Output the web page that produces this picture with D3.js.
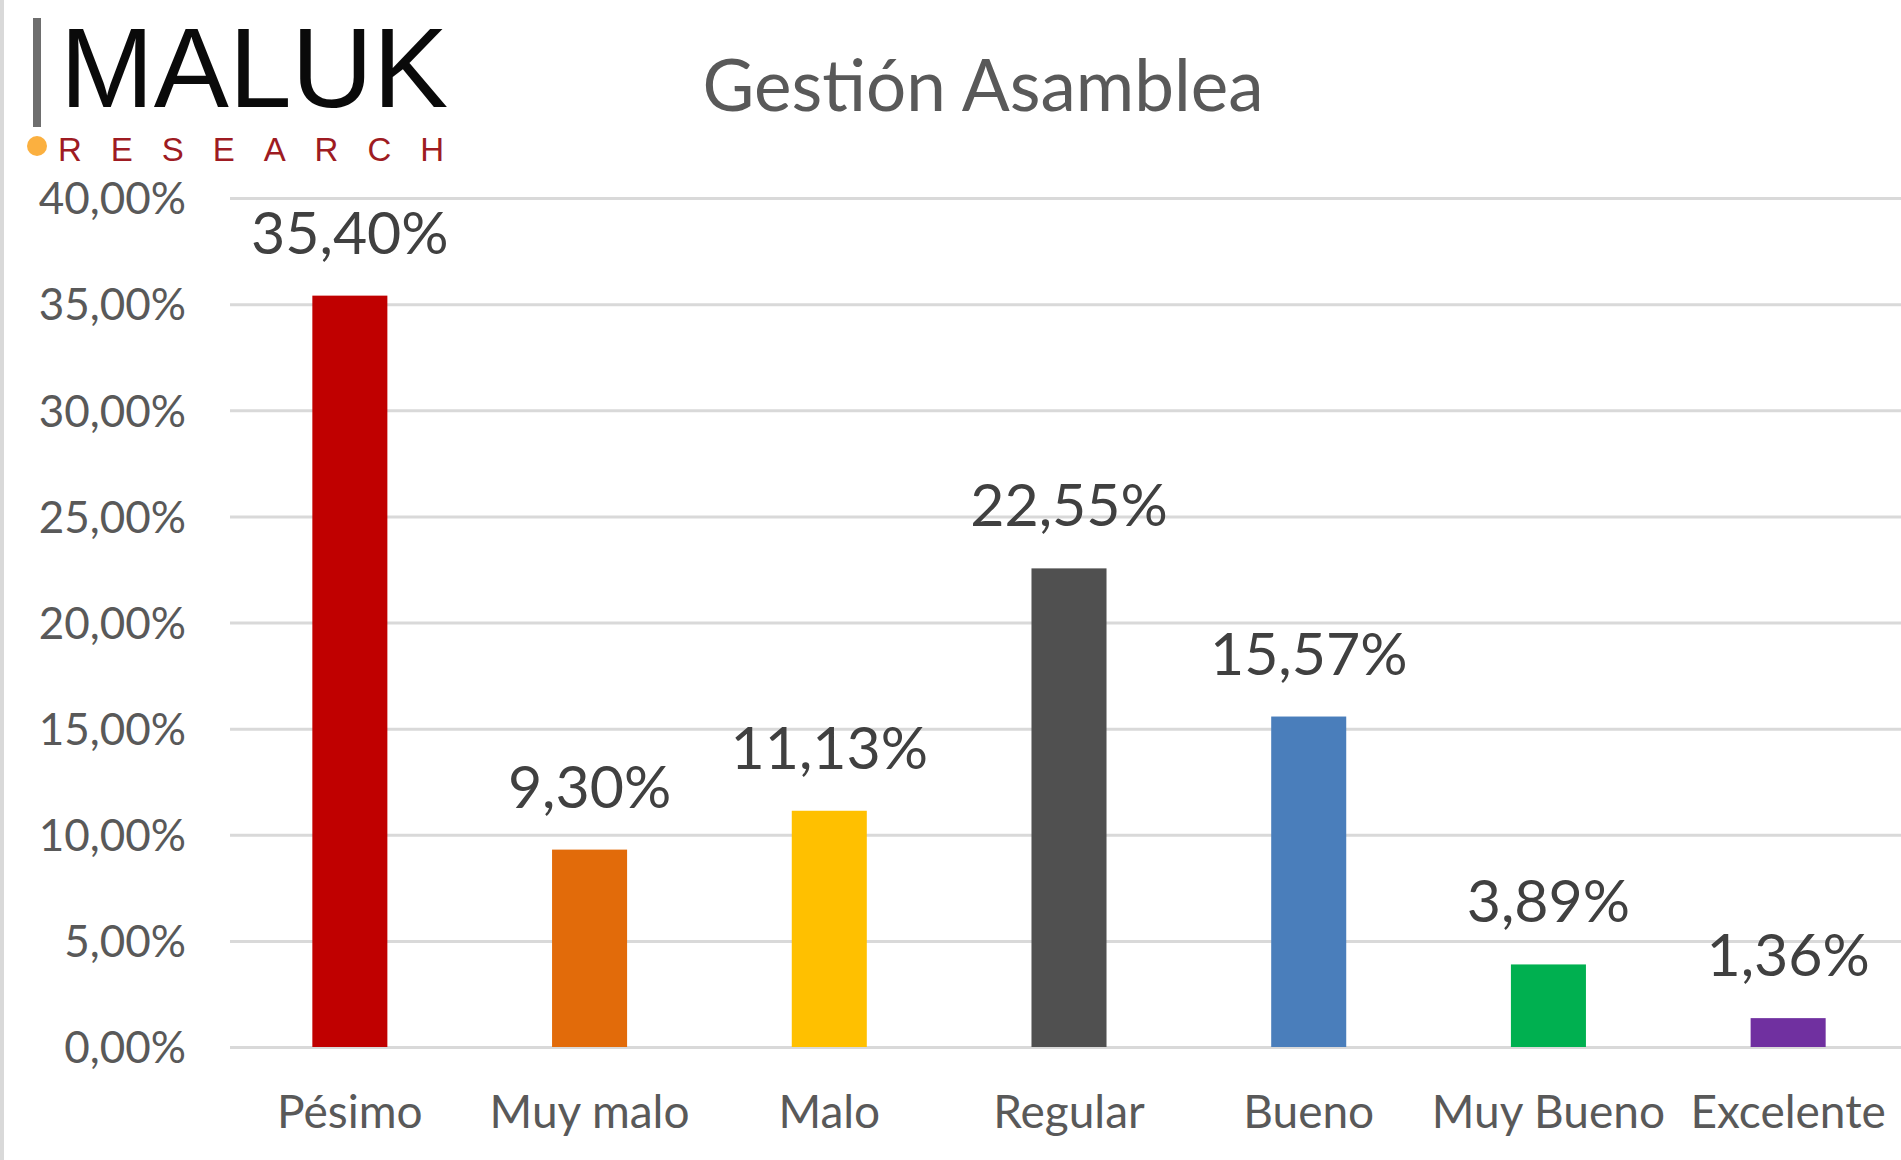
<!DOCTYPE html>
<html>
<head>
<meta charset="utf-8">
<title>Gestión Asamblea</title>
<script src="https://d3js.org/d3.v7.min.js"></script>
<style>
  html, body { margin: 0; padding: 0; background: #fff; }
  svg { display: block; font-family: Lato, "Open Sans", sans-serif; }
</style>
</head>
<body>
<svg id="chart"></svg>
<script>
// chart data
var categories = ["Pésimo", "Muy malo", "Malo", "Regular", "Bueno", "Muy Bueno", "Excelente"];
var values = [0.3540, 0.0930, 0.1113, 0.2255, 0.1557, 0.0389, 0.0136];
var barColors = ["#c00000", "#e26b0a", "#ffc000", "#505050", "#4a7ebb", "#00b050", "#7030a0"];
var yTicks = [0, 0.05, 0.10, 0.15, 0.20, 0.25, 0.30, 0.35, 0.40];

var W = 1901, H = 1160;
var plot = { left: 230, right: 1908, top: 198, bottom: 1047 };

var svg = d3.select("#chart").attr("width", W).attr("height", H);

var locale = d3.formatLocale({ decimal: ",", thousands: ".", grouping: [3], currency: ["", "€"] });
var pct = locale.format(".2%");

var x = d3.scaleBand()
  .domain(categories)
  .range([plot.left, plot.right])
  .paddingInner(0.687)
  .paddingOuter(0.687 / 2);

var y = d3.scaleLinear()
  .domain([0, 0.40])
  .range([plot.bottom, plot.top]);

// left border of the picture
svg.append("rect")
  .attr("x", 0).attr("y", 0)
  .attr("width", 4).attr("height", H)
  .attr("fill", "#d9d9d9");

// gridlines
var grid = svg.append("g")
  .attr("transform", "translate(" + plot.left + ",0)")
  .call(d3.axisLeft(y).tickValues(yTicks).tickSize(-(plot.right - plot.left)).tickFormat(""));
grid.select(".domain").remove();
grid.selectAll("line").attr("stroke", "#d9d9d9").attr("stroke-width", 3);

// y axis labels
var yAxis = svg.append("g")
  .attr("transform", "translate(" + plot.left + ",0)")
  .call(d3.axisLeft(y).tickValues(yTicks).tickSize(0).tickPadding(44).tickFormat(pct));
yAxis.select(".domain").remove();
yAxis.selectAll("text")
  .attr("dy", "0.36em")
  .attr("fill", "#595959")
  .style("font-size", "44px")
  .style("font-family", "Lato, sans-serif");

// x axis labels
var xAxis = svg.append("g")
  .attr("transform", "translate(0," + plot.bottom + ")")
  .call(d3.axisBottom(x).tickSize(0));
xAxis.select(".domain").remove();
xAxis.selectAll("text")
  .attr("y", 81)
  .attr("dy", 0)
  .attr("fill", "#595959")
  .style("font-size", "46px")
  .style("font-family", "Lato, sans-serif");

// bars
svg.selectAll(".bar")
  .data(values)
  .enter().append("rect")
  .attr("class", "bar")
  .attr("x", function(d, i) { return x(categories[i]); })
  .attr("y", function(d) { return y(d); })
  .attr("width", x.bandwidth())
  .attr("height", function(d) { return y(0) - y(d); })
  .attr("fill", function(d, i) { return barColors[i]; });

// value labels
svg.selectAll(".val")
  .data(values)
  .enter().append("text")
  .attr("class", "val")
  .attr("x", function(d, i) { return x(categories[i]) + x.bandwidth() / 2; })
  .attr("y", function(d) { return y(d) - 42; })
  .attr("text-anchor", "middle")
  .attr("fill", "#404040")
  .style("font-size", "59px")
  .text(function(d) { return pct(d); });

// title
svg.append("text")
  .attr("x", 983)
  .attr("y", 111)
  .attr("text-anchor", "middle")
  .attr("fill", "#595959")
  .style("font-size", "71px")
  .text("Gestión Asamblea");

// logo
var logo = svg.append("g");
logo.append("rect")
  .attr("x", 33).attr("y", 18)
  .attr("width", 8).attr("height", 109)
  .attr("fill", "#6e6e6e");
logo.append("text")
  .attr("x", 60).attr("y", 107)
  .attr("textLength", 388)
  .attr("lengthAdjust", "spacingAndGlyphs")
  .attr("fill", "#0a0a0a")
  .style("font-size", "113px")
  .style("font-family", "'Liberation Sans', Arial, sans-serif")
  .text("MALUK");
logo.append("circle")
  .attr("cx", 37).attr("cy", 146).attr("r", 10)
  .attr("fill", "#fbb040");
logo.append("text")
  .attr("x", 58).attr("y", 161)
  .attr("textLength", 386)
  .attr("lengthAdjust", "spacing")
  .attr("fill", "#9e1b22")
  .style("font-size", "33px")
  .style("font-family", "'Liberation Sans', Arial, sans-serif")
  .text("RESEARCH");
</script>
</body>
</html>
